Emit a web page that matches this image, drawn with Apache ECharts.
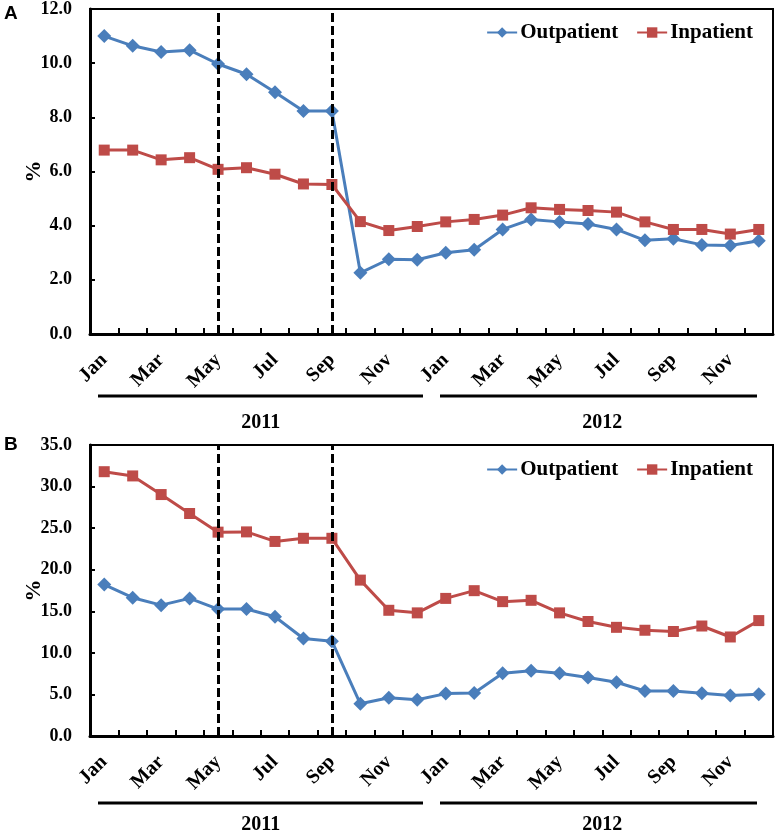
<!DOCTYPE html>
<html>
<head>
<meta charset="utf-8">
<script src="https://cdn.jsdelivr.net/npm/echarts@6/dist/echarts.min.js"></script>
<style>
html, body { margin: 0; padding: 0; background: #fff; }
#chart { width: 778px; height: 835px; }
</style>
</head>
<body>
<div id="chart"></div>
<script>
// months Jan 2011 .. Dec 2012
var months = ['Jan', 'Feb', 'Mar', 'Apr', 'May', 'Jun', 'Jul', 'Aug', 'Sep', 'Oct', 'Nov', 'Dec',
              'Jan', 'Feb', 'Mar', 'Apr', 'May', 'Jun', 'Jul', 'Aug', 'Sep', 'Oct', 'Nov', 'Dec'];
var years = ['2011', '2012'];

// panel A
var outpatientA = [11.0, 10.64, 10.41, 10.48, 9.97, 9.59, 8.93, 8.23, 8.23, 2.26, 2.76, 2.74,
                   3.0, 3.11, 3.86, 4.23, 4.14, 4.06, 3.86, 3.46, 3.52, 3.29, 3.27, 3.44];
var inpatientA = [6.79, 6.79, 6.43, 6.51, 6.08, 6.14, 5.90, 5.54, 5.52, 4.15, 3.82, 3.97,
                  4.14, 4.23, 4.39, 4.66, 4.60, 4.56, 4.50, 4.14, 3.86, 3.86, 3.69, 3.86];

// panel B
var outpatientB = [18.21, 16.63, 15.74, 16.55, 15.27, 15.27, 14.35, 11.72, 11.41, 3.87, 4.60, 4.37,
                   5.10, 5.18, 7.54, 7.85, 7.54, 7.04, 6.46, 5.41, 5.41, 5.14, 4.87, 5.03];
var inpatientB = [31.79, 31.28, 29.04, 26.76, 24.52, 24.55, 23.40, 23.78, 23.78, 18.75, 15.12, 14.81,
                  16.55, 17.48, 16.16, 16.32, 14.81, 13.77, 13.07, 12.72, 12.57, 13.23, 11.91, 13.88];

// dashed lines at May and Sep 2011
var cutoffs = [4, 8];

var serifFont = 'Liberation Serif';
var blue = '#4a7ebb';
var red = '#be4b48';

function monthAxis(g) {
    return {
        type: 'category', gridIndex: g, data: months, boundaryGap: true,
        axisLine: { lineStyle: { color: '#000', width: 3 } },
        axisTick: { show: true, inside: true, length: 6, interval: 0, lineStyle: { color: '#000', width: 2 } },
        axisLabel: { interval: 1, rotate: 45, margin: 23, color: '#000', fontFamily: serifFont, fontWeight: 'bold', fontSize: 20 }
    };
}

function yearAxis(g) {
    return {
        type: 'category', gridIndex: g, data: years, position: 'bottom', offset: 79,
        axisLine: { show: false }, axisTick: { show: false },
        axisLabel: { margin: 0, color: '#000', fontFamily: serifFont, fontWeight: 'bold', fontSize: 20 }
    };
}

function valueAxis(g, max, step) {
    return {
        type: 'value', gridIndex: g, min: 0, max: max, interval: step,
        name: '%', nameLocation: 'middle', nameGap: 45, nameRotate: 90, nameMoveOverlap: false,
        nameTextStyle: { color: '#000', fontFamily: serifFont, fontWeight: 'bold', fontSize: 22 },
        axisLine: { show: true, lineStyle: { color: '#000', width: 3 } },
        axisTick: { show: true, inside: true, length: 5, lineStyle: { color: '#000', width: 2 } },
        splitLine: { show: false },
        axisLabel: { margin: 18, color: '#000', fontFamily: serifFont, fontWeight: 'bold', fontSize: 18,
            formatter: function (v) { return v.toFixed(1); } }
    };
}

function lineSeries(name, data, g, color, symbol, size, withCutoffs) {
    var s = {
        name: name, type: 'line', data: data, xAxisIndex: g * 2, yAxisIndex: g,
        symbol: symbol, symbolSize: size, color: color,
        lineStyle: { color: color, width: 3 },
        itemStyle: { color: color },
        emphasis: { disabled: true }
    };
    if (withCutoffs) {
        s.markLine = {
            silent: true, symbol: 'none', label: { show: false },
            lineStyle: { color: '#000', width: 3, type: [9, 4] },
            data: cutoffs.map(function (i) { return { xAxis: i }; })
        };
    }
    return s;
}

function legend(top) {
    return {
        top: top, right: 20, itemWidth: 30, itemHeight: 13, itemGap: 18,
        data: ['Outpatient', 'Inpatient'],
        textStyle: { color: '#000', fontFamily: serifFont, fontWeight: 'bold', fontSize: 21, padding: [0, 0, 0, -2] }
    };
}

var chart = echarts.init(document.getElementById('chart'));

var option = {
    backgroundColor: '#fff',
    animation: false,
    grid: [
        { left: 90, top: 7, right: 5, height: 327, show: true, borderColor: '#000', borderWidth: 2 },
        { left: 90, top: 445, right: 5, height: 302, show: true, borderColor: '#000', borderWidth: 2 }
    ],
    legend: [legend(17), legend(454)],
    xAxis: [monthAxis(0), yearAxis(0), monthAxis(1), yearAxis(1)],
    yAxis: [valueAxis(0, 12, 2), valueAxis(1, 35, 5)],
    series: [
        lineSeries('Outpatient', outpatientA, 0, blue, 'diamond', 14, true),
        lineSeries('Inpatient', inpatientA, 0, red, 'rect', 11, false),
        lineSeries('Outpatient', outpatientB, 1, blue, 'diamond', 14, true),
        lineSeries('Inpatient', inpatientB, 1, red, 'rect', 11, false)
    ],
    graphic: [
        { type: 'text', left: 4, top: 4, style: { text: 'A', font: 'bold 19px "Liberation Sans"', fill: '#000' } },
        { type: 'text', left: 4, top: 435, style: { text: 'B', font: 'bold 19px "Liberation Sans"', fill: '#000' } },
        { type: 'line', shape: { x1: 98, y1: 396, x2: 423, y2: 396 }, style: { stroke: '#000', lineWidth: 3 } },
        { type: 'line', shape: { x1: 440, y1: 396, x2: 757, y2: 396 }, style: { stroke: '#000', lineWidth: 3 } },
        { type: 'line', shape: { x1: 98, y1: 803, x2: 423, y2: 803 }, style: { stroke: '#000', lineWidth: 3 } },
        { type: 'line', shape: { x1: 440, y1: 803, x2: 757, y2: 803 }, style: { stroke: '#000', lineWidth: 3 } }
    ]
};

chart.setOption(option);
</script>
</body>
</html>
